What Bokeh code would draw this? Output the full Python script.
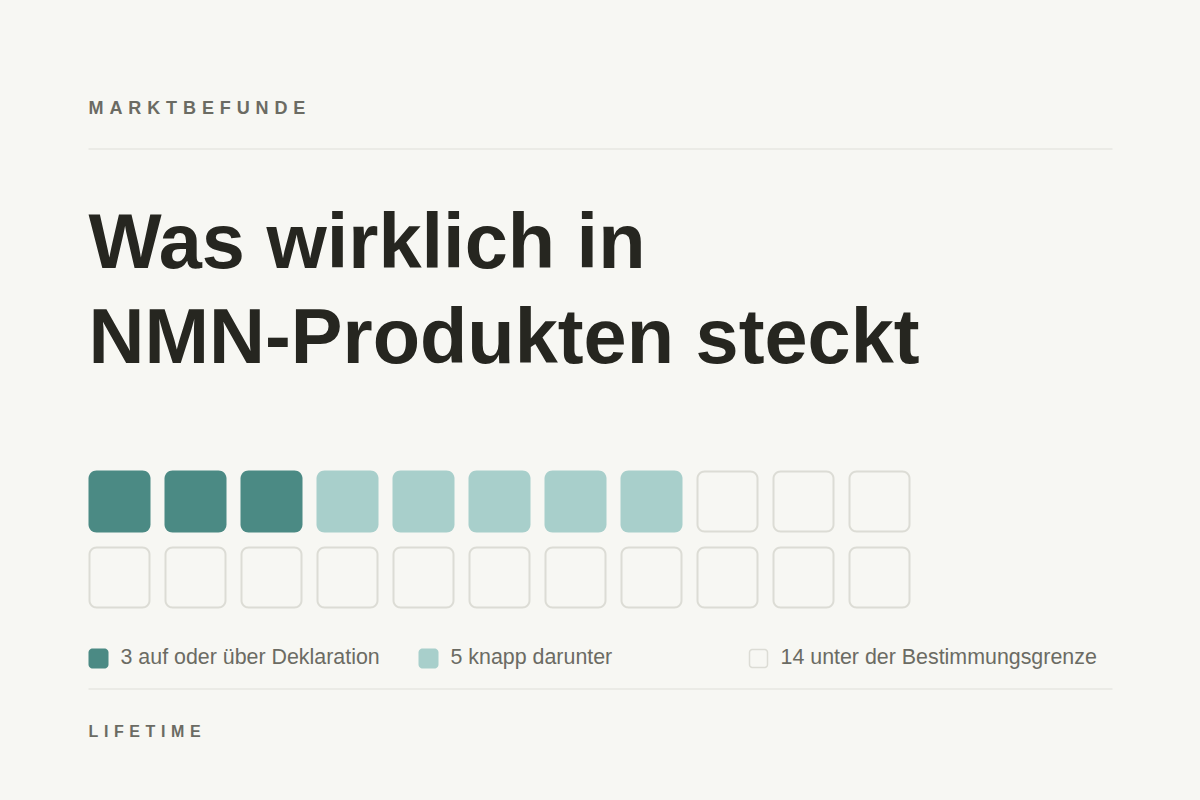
import math
from bokeh.plotting import figure
from bokeh.models import Range1d, GlobalInlineStyleSheet
from bokeh.core.properties import value
from bokeh.embed import file_html
from bokeh.resources import INLINE

# ---------------- data ----------------
kicker = "MARKTBEFUNDE"
footer = "LIFETIME"
title_lines = ["Was wirklich in", "NMN-Produkten steckt"]
categories = ["auf oder über Deklaration", "knapp darunter", "unter der Bestimmungsgrenze"]
counts = [3, 5, 14]
fills = ["#4b8a84", "#a8cfcb", None]
strokes = [None, None, "#dcdcd5"]
n_cols = 11
n_rows = 2

# ---------------- style ----------------
BG = "#f7f7f3"
INK = "#262620"
MUTED = "#6b6b63"
RULE = "#dfdfd9"
FONT = "Liberation Sans"

W, H = 1184, 784
OFF = 0  # data coordinates = page pixels

p = figure(width=W, height=H, output_backend="svg", toolbar_location=None,
           x_range=Range1d(OFF, OFF + W), y_range=Range1d(OFF + H, OFF),
           x_axis_type=None, y_axis_type=None, min_border=0,
           background_fill_color=BG, border_fill_color=BG)
p.grid.visible = False
p.outline_line_color = None
p.stylesheets = [GlobalInlineStyleSheet(css="html, body { background: %s; margin: 0; }" % BG)]

# Arial/Liberation bold advance widths (per 1000 em) for letter-spaced caps
BOLD_W = {'M': 833, 'A': 722, 'R': 722, 'K': 722, 'T': 611, 'B': 722, 'E': 667,
          'F': 611, 'U': 722, 'N': 722, 'D': 722, 'L': 611, 'I': 278}


def by(baseline, size, k=0.42):
    # empirical baseline correction (fraction of font size)
    return baseline - k * size


def spaced_text(s, x0, baseline, size, ls, color):
    xs, x = [], x0
    for ch in s:
        xs.append(x)
        x += BOLD_W.get(ch, 667) / 1000 * size + ls
    p.text(x=xs, y=[by(baseline, size)] * len(s), text=list(s), text_font=value(FONT),
           text_font_style="bold", text_font_size=f"{size}px", text_color=color,
           text_align="left", text_baseline="alphabetic")


def rrect(x0, y0, w, h, r, n=8):
    xs, ys = [], []
    corners = [(x0 + w - r, y0 + r, -90), (x0 + w - r, y0 + h - r, 0),
               (x0 + r, y0 + h - r, 90), (x0 + r, y0 + r, 180)]
    for cx, cy, a0 in corners:
        for k in range(n + 1):
            a = math.radians(a0 + 90 * k / n)
            xs.append(cx + r * math.cos(a))
            ys.append(cy + r * math.sin(a))
    return xs, ys


LEFT, RIGHT = 88, 1112

# kicker + rules
spaced_text(kicker, LEFT, 115, 18, 5.9, MUTED)
p.segment(x0=[LEFT, LEFT], y0=[148.5, 688.5], x1=[RIGHT, RIGHT], y1=[148.5, 688.5],
          line_color=RULE, line_width=1)

# title
TS = 77.5
p.text(x=[LEFT] * len(title_lines), y=[by(268 + 95 * i, TS, 0.36) for i in range(len(title_lines))],
       text=title_lines, text_font=value(FONT), text_font_style="bold",
       text_font_size=f"{TS}px", text_color=INK, text_align="left", text_baseline="alphabetic")

# waffle grid
CELL, GAP, GX, GY, RAD = 62, 14, 88, 470, 8
cell_cat = []
for ci, c in enumerate(counts):
    cell_cat += [ci] * c
for ci in range(len(categories)):
    xs_l, ys_l = [], []
    for idx, cat in enumerate(cell_cat):
        if cat != ci:
            continue
        r, c = divmod(idx, n_cols)
        if fills[ci] is None:
            xx, yy = rrect(GX + c * (CELL + GAP) + 1, GY + r * (CELL + GAP) + 1, CELL - 2, CELL - 2, RAD - 1)
        else:
            xx, yy = rrect(GX + c * (CELL + GAP), GY + r * (CELL + GAP), CELL, CELL, RAD)
        xs_l.append(xx)
        ys_l.append(yy)
    if fills[ci] is None:
        p.patches(xs_l, ys_l, fill_color=None, line_color=strokes[ci], line_width=2)
    else:
        p.patches(xs_l, ys_l, fill_color=fills[ci], line_color=None)

# legend
leg_x = [88, 418, 748]
LS = 21.4
for ci, cat in enumerate(categories):
    x0 = leg_x[ci]
    if fills[ci] is None:
        xx, yy = rrect(x0 + 1, 649, 18, 18, 3)
        p.patch(xx, yy, fill_color=None, line_color=strokes[ci], line_width=1.5)
    else:
        xx, yy = rrect(x0, 648, 20, 20, 4)
        p.patch(xx, yy, fill_color=fills[ci], line_color=None)
    p.text(x=[x0 + 32], y=[by(665, LS)], text=[f"{counts[ci]} {cat}"], text_font=value(FONT),
           text_font_size=f"{LS}px", text_color=MUTED, text_align="left",
           text_baseline="alphabetic")

# footer
spaced_text(footer, LEFT, 738, 16, 5.6, MUTED)

open("out.html", "w").write(file_html(p, INLINE))
